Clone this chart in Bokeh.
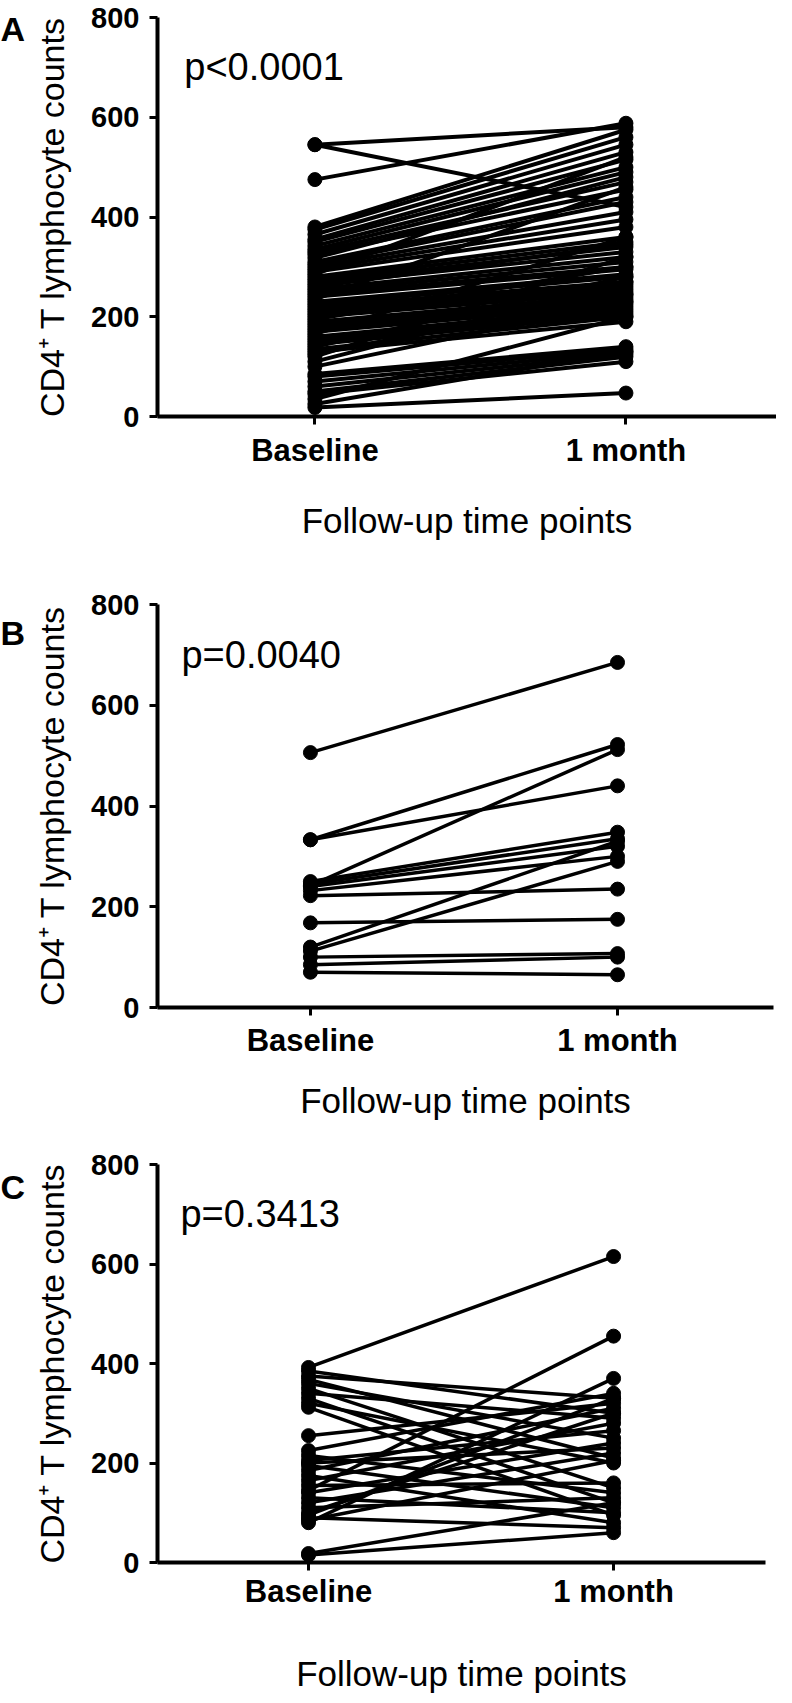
from bokeh.plotting import figure
from bokeh.layouts import column, row
from bokeh.models import FixedTicker, Label, Range1d, ColumnDataSource
from bokeh.core.properties import value
from bokeh.embed import file_html
from bokeh.resources import INLINE

# ---------------- data ----------------
categories = ["Baseline", "1 month"]
y_ticks = [0, 200, 400, 600, 800]
y_title = "CD4\u207a T lymphocyte counts"
x_title = "Follow-up time points"

a_baseline = [545, 545, 475, 380, 375, 365, 355, 350, 342, 335, 330, 325, 318, 310, 305,
              300, 295, 290, 285, 280, 275, 270, 265, 260, 255, 250, 245, 240, 235, 230,
              225, 220, 215, 210, 205, 200, 195, 190, 185, 180, 175, 170, 165, 160, 155,
              150, 145, 140, 135, 130, 125, 120, 110, 100, 85, 80, 70, 60, 50, 45,
              35, 25, 18]
a_month1 = [580, 420, 588, 575, 560, 545, 530, 515, 500, 490, 470, 455, 480, 440, 430,
            410, 395, 380, 520, 360, 350, 340, 330, 345, 320, 310, 300, 295, 460, 285,
            280, 270, 265, 260, 255, 250, 300, 245, 240, 235, 230, 225, 360, 220, 215,
            210, 205, 280, 200, 190, 245, 320, 270, 230, 140, 135, 130, 125, 120, 110,
            200, 130, 47]
a_p = "p<0.0001"

b_baseline = [506, 333, 333, 242, 250, 245, 240, 232, 222, 168, 120, 112, 100, 85, 70]
b_month1 = [685, 522, 440, 512, 348, 335, 320, 300, 235, 175, 330, 290, 107, 100, 65]
b_p = "p=0.0040"

c_baseline = [392, 385, 375, 368, 360, 350, 340, 330, 320, 312, 255, 225, 215, 205, 200,
              195, 185, 175, 165, 155, 145, 140, 130, 120, 110, 100, 90, 80, 85, 15, 18, 95]
c_month1 = [615, 300, 330, 210, 250, 150, 290, 120, 200, 95, 320, 340, 140, 265, 230,
            110, 310, 80, 280, 160, 455, 240, 100, 220, 130, 300, 70, 370, 205, 60, 120, 330]
c_p = "p=0.3413"

panel_letters = ["A", "B", "C"]

FONT = "Liberation Sans"
LETTER_W = 30


def letter_fig(letter, height, center_from_top):
    f = figure(width=LETTER_W, height=height, output_backend="svg", toolbar_location=None,
               x_range=Range1d(0, LETTER_W), y_range=Range1d(0, height),
               x_axis_location=None, y_axis_location=None,
               min_border_left=0, min_border_right=0, min_border_top=0, min_border_bottom=0)
    f.grid.visible = False
    f.outline_line_color = None
    f.text(x=[0], y=[height - center_from_top], text=[letter],
           text_font=value(FONT), text_font_style="bold", text_font_size="34px",
           text_baseline="middle", text_align="left", text_color="black")
    return f


def make_panel(baseline, month1, ptext, letter, x0, x1, height, top, frame_h,
               left, right, lab_standoff, title_standoff, letter_center, lw):
    p = figure(width=776 - LETTER_W, height=height, output_backend="svg",
               toolbar_location=None,
               x_range=Range1d(x0, x1), y_range=Range1d(0, 800),
               min_border_left=left - LETTER_W, min_border_right=right,
               min_border_top=top, min_border_bottom=height - top - frame_h)
    p.grid.visible = False
    p.outline_line_color = None

    xs = [[0, 1] for _ in baseline]
    ys = [[b, m] for b, m in zip(baseline, month1)]
    p.multi_line(xs=xs, ys=ys, line_color="black", line_width=lw)
    src = ColumnDataSource(dict(x=[0] * len(baseline) + [1] * len(month1),
                                y=list(baseline) + list(month1)))
    p.scatter("x", "y", source=src, size=14, fill_color="black", line_color="black")

    for ax in (p.xaxis[0], p.yaxis[0]):
        ax.axis_line_width = 4
        ax.axis_line_color = "black"
        ax.major_tick_line_width = 3
        ax.major_tick_line_color = "black"
        ax.major_tick_out = 8
        ax.major_tick_in = 0
        ax.minor_tick_out = 0
        ax.minor_tick_in = 0
        ax.major_label_text_font = FONT
        ax.major_label_text_font_style = "bold"
        ax.major_label_text_font_size = "29px"
        ax.major_label_text_color = "black"
        ax.axis_label_text_font = FONT
        ax.axis_label_text_font_style = "normal"
        ax.axis_label_text_font_size = "34px"
        ax.axis_label_text_color = "black"

    p.xaxis.ticker = FixedTicker(ticks=[0, 1])
    p.xaxis.major_label_overrides = {0: categories[0], 1: categories[1]}
    p.xaxis.major_label_text_font_size = "31px"
    p.xaxis.major_label_standoff = lab_standoff
    p.xaxis.axis_label = x_title
    p.xaxis.axis_label_text_font_size = "35px"
    p.xaxis.axis_label_standoff = title_standoff

    p.yaxis.ticker = FixedTicker(ticks=y_ticks)
    p.yaxis.major_label_standoff = 10
    p.yaxis.axis_label = y_title
    p.yaxis.axis_label_standoff = 17

    p.add_layout(Label(x=-0.42, y=700, text=ptext, text_font=FONT,
                       text_font_size="38px", text_baseline="middle", text_align="left",
                       text_color="black"))
    return row(letter_fig(letter, height, letter_center), p, spacing=0)


pa = make_panel(a_baseline, a_month1, a_p, panel_letters[0], -0.506, 1.484,
                564, 17, 399, 147, 0, 8, 30, 16, 4)
pb = make_panel(b_baseline, b_month1, b_p, panel_letters[1], -0.498, 1.508,
                568, 40, 403, 149, 3, 7, 20, 40, 3.5)
pc = make_panel(c_baseline, c_month1, c_p, panel_letters[2], -0.495, 1.498,
                563, 32, 398, 149, 11, 3, 42, 32, 3.5)

layout = column(pa, pb, pc, spacing=0)
open("out.html", "w").write(file_html(layout, INLINE))
